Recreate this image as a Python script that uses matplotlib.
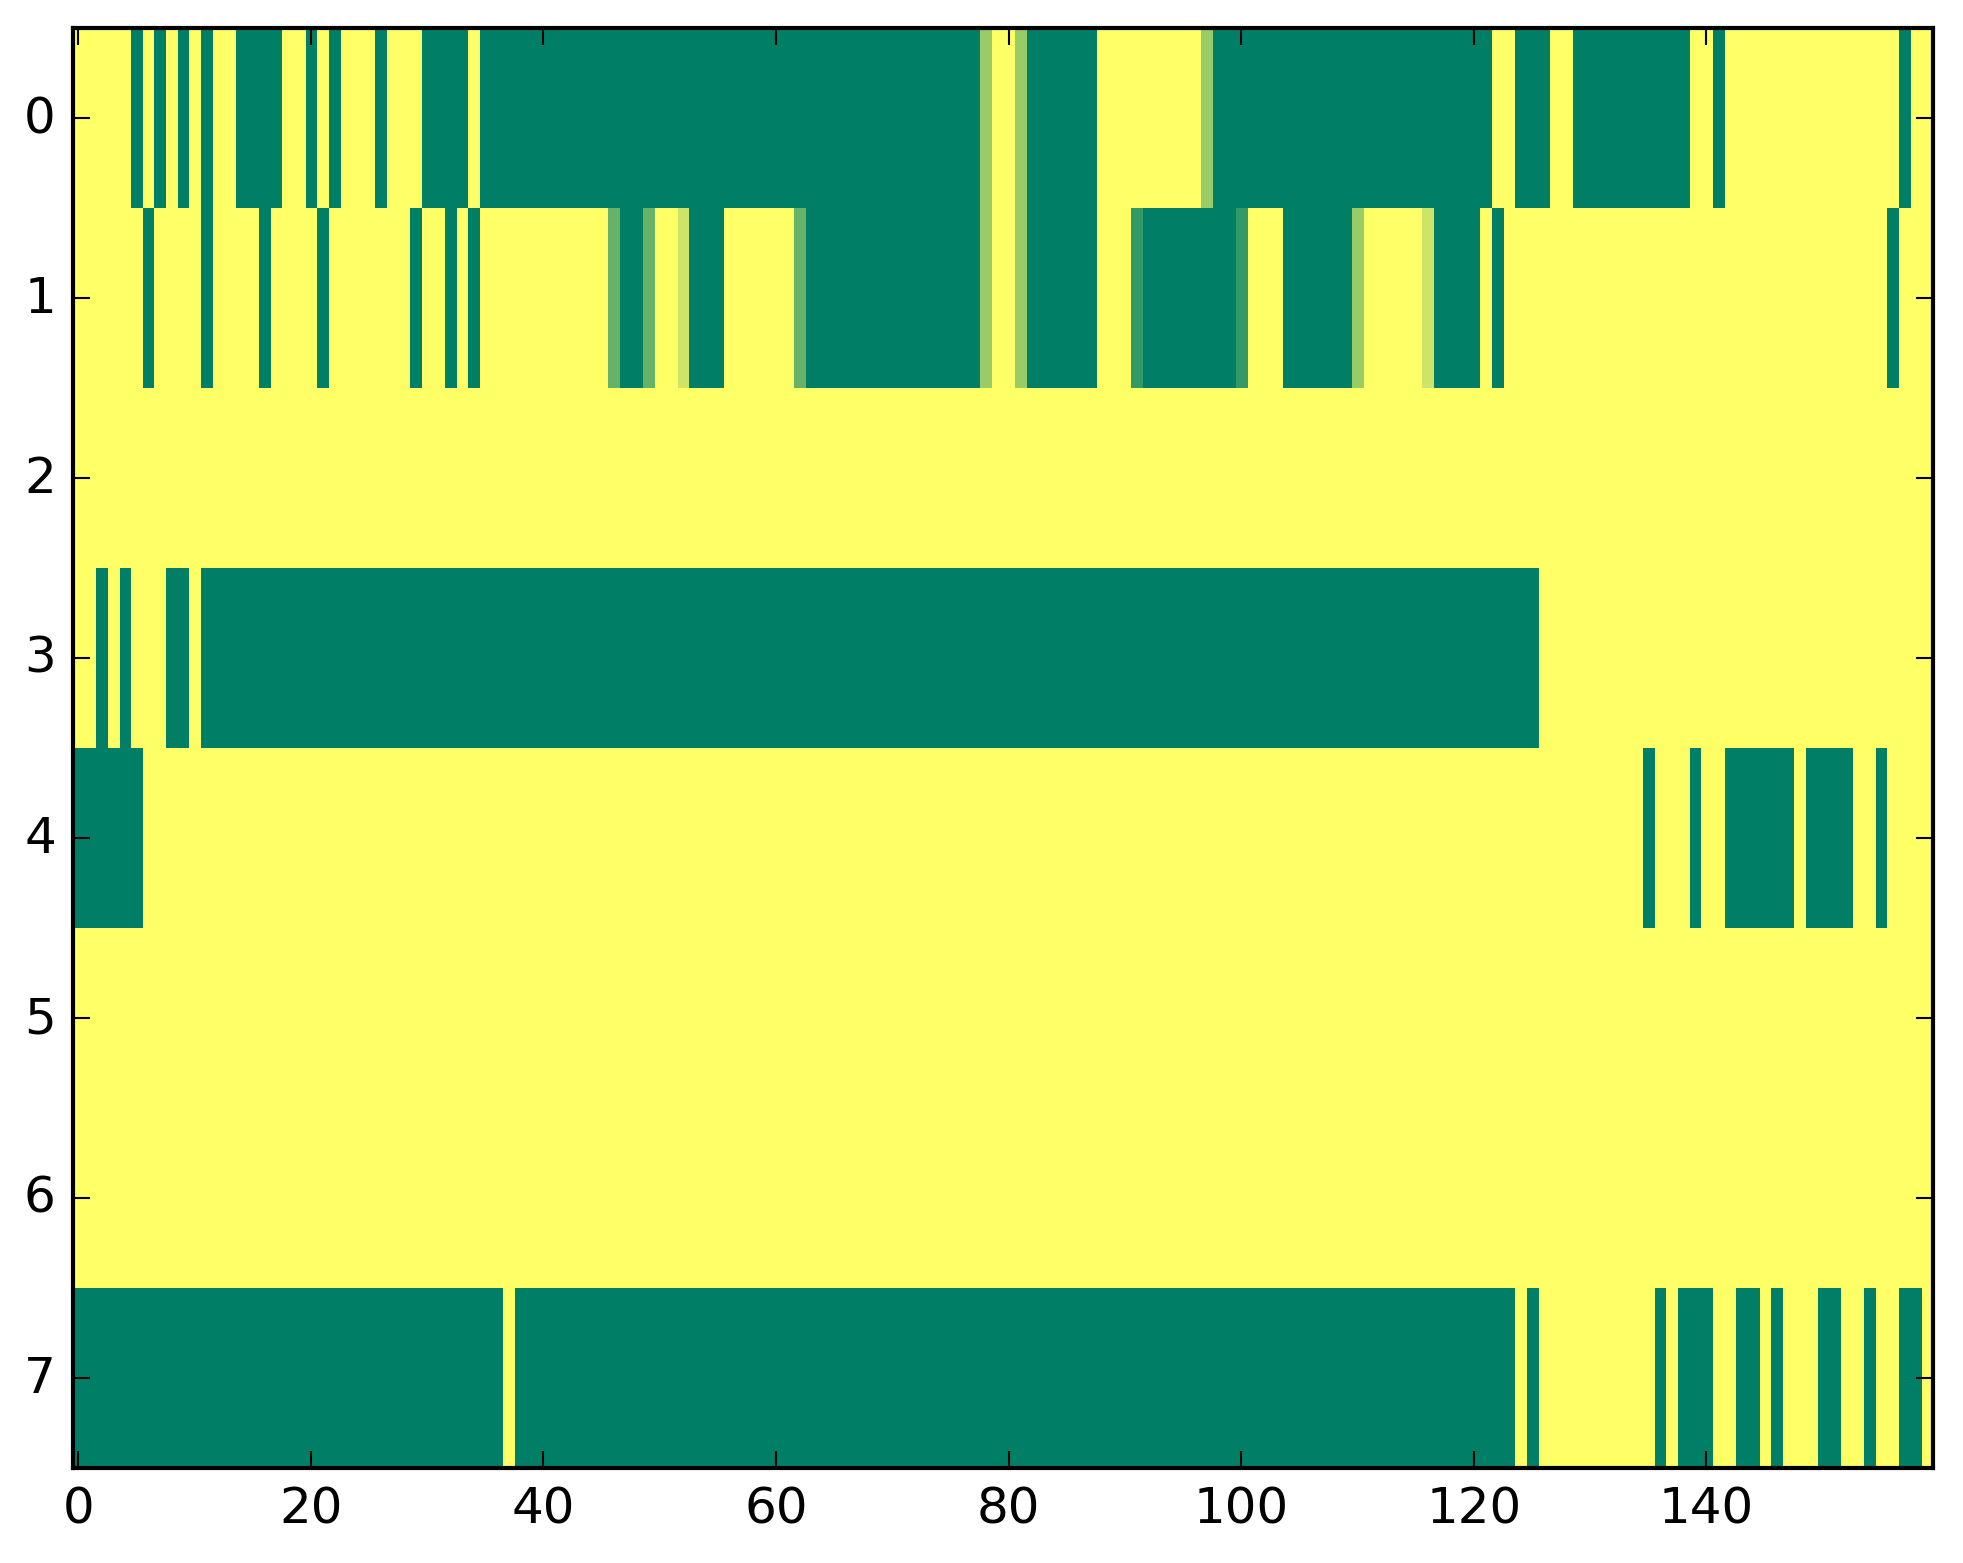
import numpy as np
import matplotlib
matplotlib.use('Agg')
import matplotlib.pyplot as plt

N_ROWS = 8
N_COLS = 160

# columns that are fully "off" (value 0) per row, single index or (start, end) inclusive
row0_green = [5, 7, 9, 11, (14, 17), 20, 22, 26, (30, 33), (35, 77), (82, 87),
              (98, 121), (124, 126), (129, 138), 141, 157]
row1_green = [6, 11, 16, 21, 29, 32, 34, (47, 48), (53, 55), (63, 77), (82, 87),
              (92, 99), (104, 109), (117, 120), 122, 156]
row3_green = [2, 4, (8, 9), (11, 125)]
row4_green = [(0, 5), 135, 139, (142, 147), (149, 152), 155]
row7_green = [(0, 36), (38, 123), 125, 136, (138, 140), (143, 144), 146,
              (150, 151), 154, (157, 158)]

# cells with in-between values
row0_partial = {78: 0.6, 81: 0.6, 97: 0.6}
row1_partial = {46: 0.4, 49: 0.4, 52: 0.8, 62: 0.4, 78: 0.6, 81: 0.6,
                91: 0.2, 100: 0.2, 110: 0.6, 116: 0.8}

green_rows = {0: row0_green, 1: row1_green, 3: row3_green, 4: row4_green, 7: row7_green}
partial_rows = {0: row0_partial, 1: row1_partial}

x_ticks = [0, 20, 40, 60, 80, 100, 120, 140]
y_ticks = list(range(N_ROWS))


def build_matrix():
    data = np.ones((N_ROWS, N_COLS))
    for r, spans in green_rows.items():
        for s in spans:
            if isinstance(s, tuple):
                data[r, s[0]:s[1] + 1] = 0.0
            else:
                data[r, s] = 0.0
    for r, cells in partial_rows.items():
        for c, v in cells.items():
            data[r, c] = v
    return data


plt.style.use('classic')
plt.rcParams['font.family'] = 'DejaVu Sans'

fig = plt.figure(figsize=(1963 / 300.0, 1564 / 300.0), dpi=300)
fig.patch.set_facecolor('white')
ax = fig.add_axes([72.5 / 1963.0, 1 - 1469 / 1564.0, (1933 - 72.5) / 1963.0, (1469 - 29) / 1564.0])

data = build_matrix()
ax.imshow(data, cmap='summer', vmin=0, vmax=1, aspect='auto', interpolation='nearest')

ax.set_xticks(x_ticks)
ax.set_yticks(y_ticks)
ax.set_xlim(-0.5, N_COLS - 0.5)
ax.set_ylim(N_ROWS - 0.5, -0.5)
ax.tick_params(labelsize=12)

fig.savefig('out.png', dpi=300, facecolor='white')
